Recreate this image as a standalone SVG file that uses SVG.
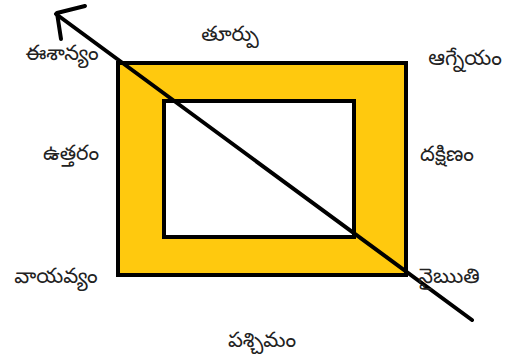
<svg xmlns="http://www.w3.org/2000/svg" width="513" height="360" viewBox="0 0 513 360">
<style>
text{font-family:"Noto Sans Telugu","Noto Sans","DejaVu Sans",sans-serif;font-size:21px;fill:#222}
.box{stroke:#000;stroke-width:4}
.ln{stroke:#000;stroke-width:4;fill:none;stroke-linecap:round;stroke-linejoin:round}
</style>
<rect width="513" height="360" fill="#fff"/>
<g id="outer"><rect class="box" x="118" y="63" width="288" height="212" fill="#FFC90E"/></g>
<g id="inner"><rect class="box" x="164" y="101" width="190" height="136" fill="#fff"/></g>
<g id="connectors">
<path class="ln" d="M472,320 L56,14"/>
<path class="ln" d="M85,6 L57,13 L61,39"/>
</g>
<g id="east"><text x="230" y="41" text-anchor="middle">తూర్పు</text></g>
<g id="northeast"><text x="62" y="60" text-anchor="middle">ఈశాన్యం</text></g>
<g id="southeast"><text x="465" y="65" text-anchor="middle">ఆగ్నేయం</text></g>
<g id="north"><text x="71" y="160" text-anchor="middle">ఉత్తరం</text></g>
<g id="south"><text x="447" y="161" text-anchor="middle">దక్షిణం</text></g>
<g id="northwest"><text x="56" y="283" text-anchor="middle">వాయవ్యం</text></g>
<g id="southwest"><text x="449" y="283" text-anchor="middle">నైఋతి</text></g>
<g id="west"><text x="262" y="347" text-anchor="middle">పశ్చిమం</text></g>
</svg>
